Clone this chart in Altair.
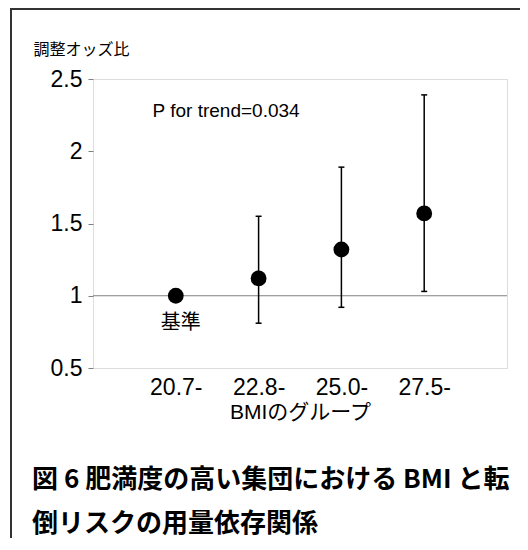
import altair as alt
import pandas as pd

# ---- data ----
groups = ["20.7-", "22.8-", "25.0-", "27.5-"]
group_pos = [1, 2, 3, 4]
odds = [1.0, 1.12, 1.32, 1.57]
ci_low = [None, 0.81, 0.92, 1.03]
ci_high = [None, 1.55, 1.89, 2.39]
y_ticks = [0.5, 1, 1.5, 2, 2.5]
baseline_value = [1.0]
ref_label = ["基準"]
trend_text = ["P for trend=0.034"]
y_title = "調整オッズ比"
x_title = "BMIのグループ"
caption_lines = ["図 6 肥満度の高い集団における BMI と転", "倒リスクの用量依存関係"]

df = pd.DataFrame({"pos": group_pos, "group": groups, "odds": odds,
                   "lo": ci_low, "hi": ci_high})
ci_df = df.dropna()
base_df = pd.DataFrame({"v": baseline_value})

LATIN = "Liberation Sans, Noto Sans CJK JP"
CJK = "Noto Sans CJK JP"

label_expr = "[" + ",".join(f"'{g}'" for g in groups) + "][datum.value - 1]"

W, H = 414, 289
PAD = {"left": 85, "top": 71, "right": 13, "bottom": 170}

xs = alt.Scale(domain=[0, 5], nice=False, zero=False)
ys = alt.Scale(domain=[0.5, 2.5], nice=False, zero=False)

x_axis = alt.Axis(values=group_pos, labelExpr=label_expr, ticks=False, domain=False,
                  grid=False, labelFontSize=23, labelFont=LATIN, labelColor="black",
                  labelPadding=8, title=x_title, titleFont=LATIN, titleFontSize=21,
                  titleFontWeight="normal", titleColor="black", titleX=W / 2, titleY=44,
                  titleBaseline="middle", titleAlign="center")
y_axis = alt.Axis(values=y_ticks, format="~g", ticks=True, tickSize=5, tickColor="#808080",
                  domain=False, grid=False, labelFontSize=23, labelFont=LATIN,
                  labelColor="black", labelPadding=6, title=y_title, titleFont=CJK,
                  titleFontSize=16, titleFontWeight="normal", titleColor="black",
                  titleAngle=0, titleAlign="left", titleBaseline="middle",
                  titleX=-60, titleY=-30)

base = alt.Chart(df)

points = base.mark_circle(size=250, color="black", opacity=1).encode(
    x=alt.X("pos:Q", scale=xs, axis=x_axis),
    y=alt.Y("odds:Q", scale=ys, axis=y_axis),
)

ref_line = alt.Chart(base_df).mark_rule(color="#808080", strokeWidth=1).encode(
    y=alt.Y("v:Q", scale=ys)
)

err = alt.Chart(ci_df).mark_rule(color="black", strokeWidth=1.5).encode(
    x=alt.X("pos:Q", scale=xs), y=alt.Y("lo:Q", scale=ys), y2="hi:Q"
)
cap_hi = alt.Chart(ci_df).mark_tick(color="black", orient="horizontal", size=6,
                                    thickness=1.5, opacity=1).encode(
    x=alt.X("pos:Q", scale=xs), y=alt.Y("hi:Q", scale=ys)
)
cap_lo = alt.Chart(ci_df).mark_tick(color="black", orient="horizontal", size=6,
                                    thickness=1.5, opacity=1).encode(
    x=alt.X("pos:Q", scale=xs), y=alt.Y("lo:Q", scale=ys)
)

ref_text = alt.Chart(df.iloc[[0]].assign(lbl=ref_label)).mark_text(
    font=CJK, fontSize=20, color="black", dy=27, dx=5, baseline="middle"
).encode(x=alt.X("pos:Q", scale=xs), y=alt.Y("odds:Q", scale=ys), text="lbl:N")

trend = alt.Chart(pd.DataFrame({"t": trend_text, "x": [0.72], "y": [2.28]})).mark_text(
    font=LATIN, fontSize=19, color="black", align="left", baseline="middle"
).encode(x=alt.X("x:Q", scale=xs), y=alt.Y("y:Q", scale=ys), text="t:N")

caption = alt.Chart(pd.DataFrame({"a": [0]})).mark_text(
    font=CJK, fontSize=26, fontWeight="bold", color="black", align="left",
    baseline="middle", lineHeight=44
).encode(x=alt.value(-61), y=alt.value(401), text=alt.value(caption_lines))

border_top = alt.Chart(pd.DataFrame({"a": [0]})).mark_rule(color="#333333", strokeWidth=2).encode(
    x=alt.value(-83), x2=alt.value(W + PAD["right"]), y=alt.value(-70)
)
border_left = alt.Chart(pd.DataFrame({"a": [0]})).mark_rule(color="#333333", strokeWidth=2).encode(
    x=alt.value(-82), y=alt.value(-71), y2=alt.value(H + PAD["bottom"])
)

chart = alt.layer(
    ref_line, err, cap_hi, cap_lo, points, ref_text, trend, caption, border_top, border_left
).properties(
    width=W, height=H, autosize=alt.AutoSizeParams(type="none"), padding=PAD
).configure_view(stroke="#7a7a7a", strokeWidth=1).configure(background="white")

chart.save("out.html", embed_options={"renderer": "svg", "actions": False})
